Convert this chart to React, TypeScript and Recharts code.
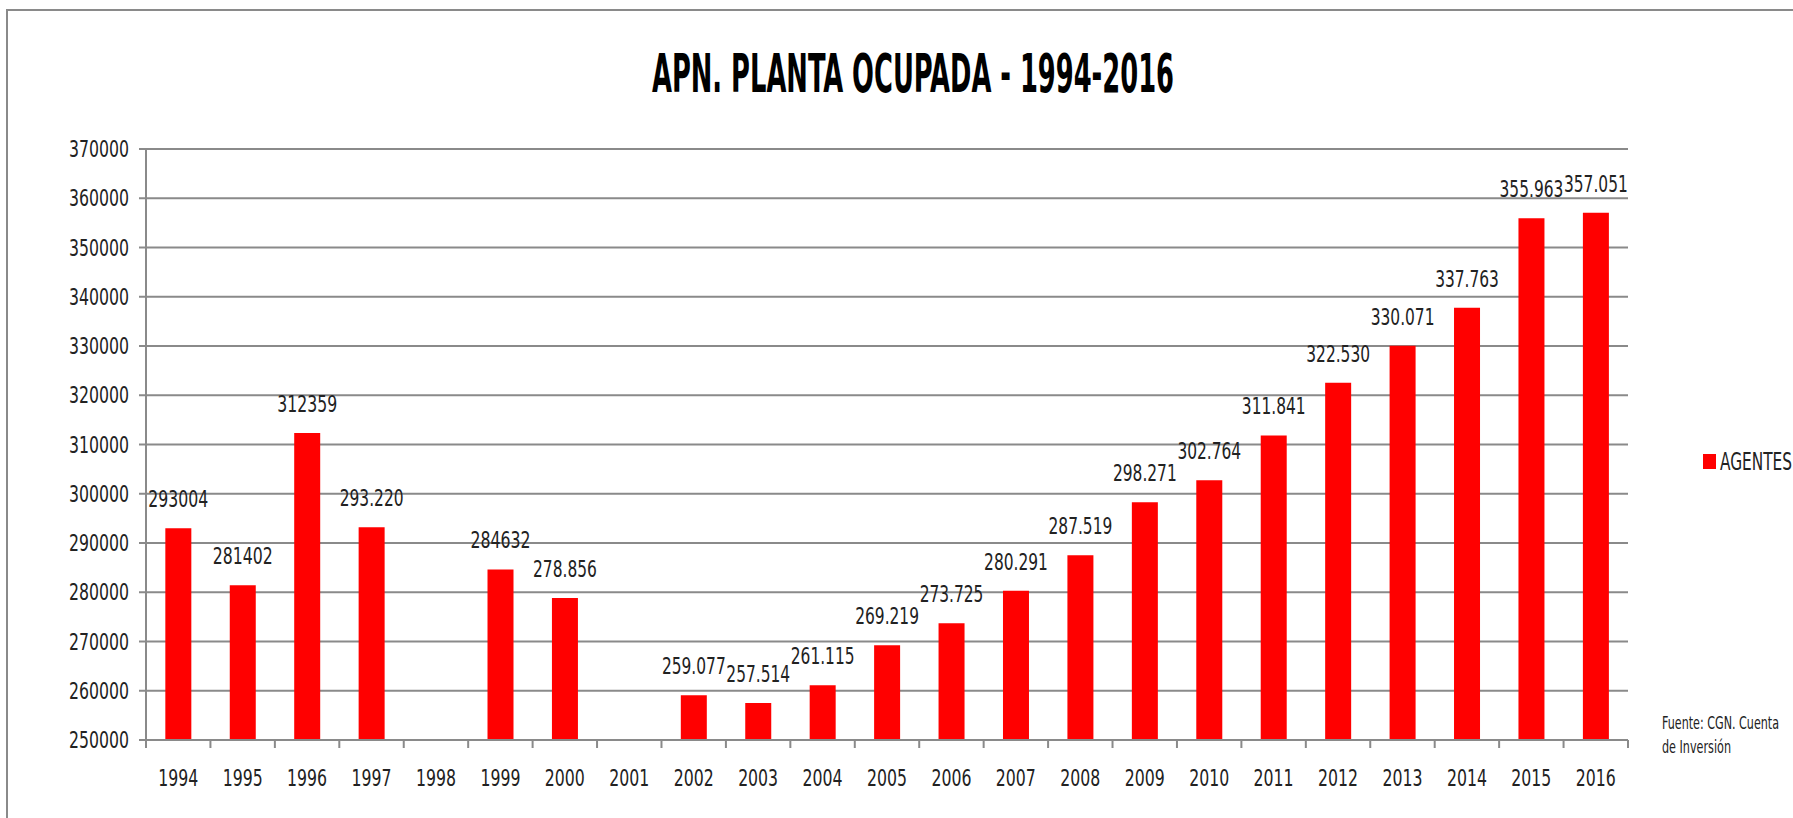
import React from 'react';
import { BarChart, Bar, XAxis, YAxis, CartesianGrid, LabelList, Legend } from 'recharts';

const years = ['1994', '1995', '1996', '1997', '1998', '1999', '2000', '2001', '2002', '2003', '2004', '2005', '2006', '2007', '2008', '2009', '2010', '2011', '2012', '2013', '2014', '2015', '2016'];
const agentes: (number | null)[] = [293004, 281402, 312359, 293220, null, 284632, 278856, null, 259077, 257514, 261115, 269219, 273725, 280291, 287519, 298271, 302764, 311841, 322530, 330071, 337763, 355963, 357051];
const valueLabels = ['293004', '281402', '312359', '293.220', '', '284632', '278.856', '', '259.077', '257.514', '261.115', '269.219', '273.725', '280.291', '287.519', '298.271', '302.764', '311.841', '322.530', '330.071', '337.763', '355.963', '357.051'];
const yTicks = [250000, 260000, 270000, 280000, 290000, 300000, 310000, 320000, 330000, 340000, 350000, 360000, 370000];
const seriesName = 'AGENTES';
const titleText = 'APN. PLANTA OCUPADA - 1994-2016';
const sourceLines = ['Fuente: CGN. Cuenta', 'de Inversión'];

const data = years.map((year, i) => ({ year, value: agentes[i], label: valueLabels[i] }));

const FONT = '"Liberation Sans Narrow", "DejaVu Sans Condensed", "Open Sans", sans-serif';
const GRID = '#8a8a8a';
const TEXT = '#222222';
const X_TICK_SIZE = 8;
const X_TICK_MARGIN = 22;
const NUM_FONT = 23;

// narrow numeric glyph widths (px) to mimic the condensed face of the original
const narrowWidth = (s: string) =>
  s.split('').reduce((w, c) => w + (c === '.' ? 3.8 : 10.0), 0);

const NarrowText = ({ x, y, dy, anchor, value }: any) => {
  const str = String(value ?? '');
  if (!str) return null;
  return (
    <text
      x={x}
      y={y}
      dy={dy}
      textAnchor={anchor}
      fontSize={NUM_FONT}
      fontFamily={FONT}
      fill={TEXT}
      textLength={narrowWidth(str)}
      lengthAdjust="spacingAndGlyphs"
    >
      {str}
    </text>
  );
};

const XTick = (props: any) => {
  const { x, y, payload, index, visibleTicksCount } = props;
  const half = payload && typeof payload.offset === 'number' && payload.offset > 0 ? payload.offset : 32.2;
  const axisY = y - X_TICK_SIZE - X_TICK_MARGIN;
  const isLast = index === (visibleTicksCount ?? years.length) - 1;
  return (
    <g>
      <line x1={x - half} x2={x - half} y1={axisY} y2={axisY + X_TICK_SIZE} stroke={GRID} strokeWidth={2} />
      {isLast && <line x1={x + half} x2={x + half} y1={axisY} y2={axisY + X_TICK_SIZE} stroke={GRID} strokeWidth={2} />}
      <NarrowText x={x} y={y} dy="0.71em" anchor="middle" value={payload.value} />
    </g>
  );
};

const YTick = (props: any) => {
  const { x, y, payload } = props;
  return <NarrowText x={x} y={y} dy="0.355em" anchor="end" value={payload.value} />;
};

const BarLabel = (props: any) => {
  const { x, y, width, value } = props;
  if (value === '' || value == null || y == null) return null;
  return <NarrowText x={Number(x) + Number(width) / 2} y={Number(y) - 21} dy={0} anchor="middle" value={value} />;
};

const LegendContent = () => (
  <svg width={100} height={30}>
    <rect x={3} y={8} width={13} height={15} fill="#ff0000" />
    <text x={20} y={24} fontSize={25} fontFamily={FONT} fill={TEXT} textLength={72} lengthAdjust="spacingAndGlyphs">
      {seriesName}
    </text>
  </svg>
);

export default function App() {
  return (
    <div style={{ position: 'absolute', left: 0, top: 0, width: 1793, height: 818, overflow: 'hidden', background: '#ffffff' }}>
      <div
        style={{
          position: 'absolute',
          left: 6,
          top: 9,
          width: 1820,
          height: 840,
          borderTop: `2px solid ${GRID}`,
          borderLeft: `2px solid ${GRID}`,
        }}
      />
      <div style={{ position: 'absolute', left: 0, top: 0 }}>
        <BarChart
          width={1793}
          height={818}
          data={data}
          margin={{ top: 149, right: 165, bottom: 18, left: 46 }}
          barCategoryGap="30%"
        >
          <CartesianGrid vertical={false} stroke={GRID} strokeWidth={2} />
          <XAxis
            dataKey="year"
            interval={0}
            height={60}
            tickLine={false}
            tickSize={X_TICK_SIZE}
            tickMargin={X_TICK_MARGIN}
            axisLine={{ stroke: GRID, strokeWidth: 2 }}
            tick={<XTick />}
          />
          <YAxis
            width={100}
            domain={[250000, 370000]}
            ticks={yTicks}
            interval={0}
            axisLine={{ stroke: GRID, strokeWidth: 2 }}
            tickLine={{ stroke: GRID, strokeWidth: 2 }}
            tickSize={7}
            tickMargin={10}
            tick={<YTick />}
          />
          <Legend
            layout="vertical"
            align="center"
            verticalAlign="middle"
            wrapperStyle={{ left: 1700, top: 446, width: 100, height: 30 }}
            content={<LegendContent />}
          />
          <Bar dataKey="value" name={seriesName} fill="#ff0000" isAnimationActive={false}>
            <LabelList dataKey="label" content={<BarLabel />} />
          </Bar>
        </BarChart>
      </div>
      <svg width={1793} height={818} style={{ position: 'absolute', left: 0, top: 0, pointerEvents: 'none' }}>
        <text
          x={913}
          y={92}
          textAnchor="middle"
          fontSize={54}
          fontWeight="bold"
          fontFamily={FONT}
          fill="#000000"
          textLength={522}
          lengthAdjust="spacingAndGlyphs"
        >
          {titleText}
        </text>
        <text x={1662} y={729} fontSize={17} fontFamily={FONT} fill={TEXT} textLength={117} lengthAdjust="spacingAndGlyphs">
          {sourceLines[0]}
        </text>
        <text x={1662} y={753} fontSize={17} fontFamily={FONT} fill={TEXT} textLength={69} lengthAdjust="spacingAndGlyphs">
          {sourceLines[1]}
        </text>
      </svg>
    </div>
  );
}
